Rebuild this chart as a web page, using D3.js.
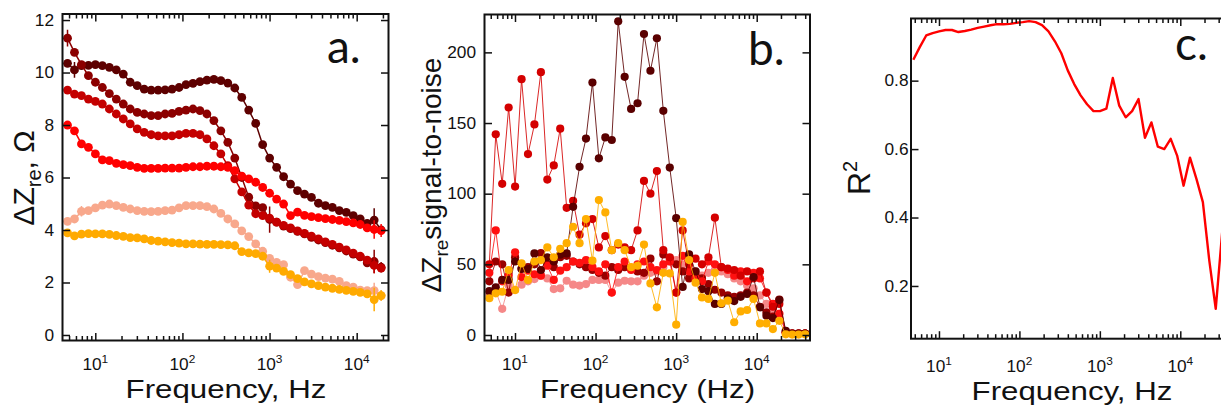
<!DOCTYPE html>
<html><head><meta charset="utf-8">
<script src="https://cdn.jsdelivr.net/npm/d3@7/dist/d3.min.js"></script>
<style>
html,body{margin:0;padding:0;background:#fff;overflow:hidden}
svg{display:block}
</style></head>
<body>
<svg id="chart" width="1221" height="408" xmlns="http://www.w3.org/2000/svg"></svg>
<script>
// ================= DATA =================
const freqHz = [4.80,5.77,6.94,8.34,10.03,12.06,14.50,17.43,20.96,25.19,30.29,36.41,43.78,52.63,63.27,76.07,91.45,109.9,132.2,158.9,191.0,229.7,276.1,331.9,399.0,479.7,576.7,693.3,833.5,1002,1205,1449,1742,2094,2517,3026,3638,4374,5258,6321,7600,9136,10984,13205,15875,19085,22945,27584,33162,39868];

// Panel a: ΔZre (Ω)
const aDarkest = [10.35,10.10,10.26,10.27,10.30,10.26,10.20,10.10,9.94,9.63,9.50,9.37,9.33,9.33,9.34,9.37,9.43,9.54,9.59,9.65,9.71,9.74,9.69,9.60,9.41,9.05,8.57,8.06,7.25,6.74,6.39,6.03,5.75,5.50,5.37,5.24,5.02,4.93,4.86,4.74,4.67,4.55,4.42,4.25,4.38,4.00];
const aDarkRed = [11.31,10.77,10.30,9.88,9.63,9.43,9.20,8.99,8.80,8.61,8.48,8.42,8.36,8.36,8.42,8.44,8.52,8.57,8.61,8.55,8.42,8.17,7.78,7.34,6.74,6.00,5.25,4.92,4.85,4.40,4.30,4.15,4.05,3.95,3.85,3.72,3.62,3.52,3.42,3.32,3.20,3.08,2.98,2.75,2.80,2.58];
const aMedRed = [9.33,9.18,9.12,8.99,8.90,8.80,8.61,8.42,8.23,8.04,7.85,7.72,7.63,7.59,7.59,7.59,7.63,7.68,7.68,7.63,7.47,7.21,6.90,6.45,5.95,5.45,4.95,4.62,4.55,4.45,4.30,4.18,4.08,3.97,3.87,3.77,3.66,3.55,3.45,3.35,3.24,3.12,3.00,2.85,2.65,2.55];
const aRed = [8.00,7.78,7.28,7.15,6.90,6.67,6.64,6.54,6.49,6.45,6.39,6.35,6.35,6.35,6.36,6.36,6.36,6.39,6.41,6.41,6.43,6.43,6.41,6.39,6.26,6.05,5.95,5.82,5.62,5.40,5.18,4.99,4.55,4.68,4.56,4.51,4.47,4.43,4.40,4.37,4.32,4.27,4.21,4.08,4.02,3.98];
const aSalmon = [4.33,4.42,4.71,4.74,4.84,4.95,4.99,4.93,4.86,4.80,4.74,4.71,4.70,4.71,4.74,4.76,4.84,4.93,4.93,4.93,4.89,4.80,4.63,4.42,4.23,3.97,3.75,3.47,3.19,2.92,2.77,2.68,2.20,1.92,2.45,2.32,2.22,2.17,2.13,2.04,1.88,1.82,1.71,1.69,1.69,1.50];
const aOrange = [3.89,3.78,3.84,3.86,3.85,3.85,3.83,3.79,3.76,3.71,3.70,3.66,3.60,3.58,3.55,3.52,3.50,3.47,3.47,3.46,3.45,3.45,3.44,3.43,3.40,3.18,3.13,3.10,3.00,2.62,2.55,2.42,2.30,2.15,2.02,1.95,1.88,1.82,1.78,1.74,1.70,1.66,1.62,1.57,1.35,1.50];
const aErrDefault = 0.12;
// visible large error bars: [series, point index, half-length]
const aErrBig = [["aDarkRed",0,0.32],["aDarkest",1,0.30],["aSalmon",2,0.20],["aDarkRed",29,0.50],["aOrange",29,0.25],
  ["aDarkest",44,0.45],["aDarkRed",44,0.45],["aMedRed",44,0.30],["aRed",44,0.35],["aOrange",44,0.45],["aSalmon",44,0.30],
  ["aDarkRed",45,0.20],["aRed",45,0.25],["aOrange",45,0.20],["aSalmon",45,0.20]];
const aYTicks = [0,2,4,6,8,10,12];

// Panel b: ΔZre signal-to-noise
const bDarkest = [31,33.7,39,39,52,46.7,46.7,57.7,46,55,52,56.8,57.7,90.7,119,139,178.6,125,139.8,138,222,182.7,160,164,213,187,210,158.6,118.5,82.7,34,57,45,32.5,31,22,22,26,24,27,29,41,19.6,13.7,12,24.7,3,1,1,1];
const bDarkRed = [38,52,50,30,55,47,48,50,58,50,48,55,56,52,50,48,46,44,42,48,46,48,47,45,44,54,38,57,54,50,45,40,42,40,36,32,30,28,27,28,30,28,20,16,13,25,2,1,1,1];
const bMedRed = [50,142,107,161,105,181,128,149,186,110,120,146,90,95,71,79,82,62,70,60,64,62,60,74,109,100,116,60,55,30,74,50,54,50,55,83,48,47,46,42,45,40,45,30,20,22,2,1,1,1];
const bRed = [44,74,38,42,58.5,41,45.5,43,42,49,39,45.5,48,52,51,53,48,45,50,30,48,52,46,50,52,48,46,50,52,30,56,45,40,38,52,50,48,46,42,45,38,44,40,30,22,15,2,1,1,1];
const bPink = [29,31,18.5,35,32,35.6,38,39.6,42,40,32.5,33,38.4,35.6,35,36,39,39,39,30,37,38.4,38,38,42,44,45,48,52,53,50,48,45,42,44,46,45,43,40,38,35,33,28,22,18,15,2,1,1,1];
const bOrange = [26,29.5,30.6,46,31.8,50.7,39,52,53,62,55,61,65,76.6,65,82,52.6,95.5,86.7,60,65,60,48,49,64,36.5,19.6,44,43.6,7.3,80,53,37,26.6,25.5,44,22.4,24.3,9,16.7,17.7,25.5,8.2,8.2,4.2,10,0.5,0.3,0.3,0.5];
const bYTicks = [0,50,100,150,200];

// Panel c: R²
const cR2 = [0.861,0.898,0.932,0.939,0.944,0.948,0.948,0.942,0.945,0.949,0.954,0.958,0.962,0.965,0.965,0.966,0.969,0.971,0.974,0.971,0.962,0.944,0.915,0.880,0.830,0.790,0.757,0.731,0.711,0.711,0.718,0.808,0.727,0.693,0.711,0.746,0.633,0.678,0.607,0.600,0.630,0.581,0.493,0.575,0.513,0.445,0.274,0.133,0.357];
const cYTicks = [0.2,0.4,0.6,0.8];

const xTickExps = [1,2,3,4];
const panelLetters = ["a.","b.","c."];

// ================= DRAW =================
const svg = d3.select("#chart");
const SANS = "'Liberation Sans', Arial, Helvetica, sans-serif";
const defs = svg.append("defs");
const TICK_SX = 1.08, TITLE_SX = 1.25, TICK_FS = 16;

function makePanel(id, box, xDom, yDom) {
  const x = d3.scaleLog().domain(xDom).range([box.left, box.right]);
  const y = d3.scaleLinear().domain(yDom).range([box.bottom, box.top]);
  defs.append("clipPath").attr("id","clip-"+id).append("rect")
    .attr("x",box.left).attr("y",box.top).attr("width",box.right-box.left).attr("height",box.bottom-box.top);
  const g = svg.append("g");
  const plot = g.append("g").attr("clip-path",`url(#clip-${id})`);
  return {x,y,g,plot,box};
}

function logTickVals(x) {
  const [a,b] = x.domain();
  const major=[], minor=[];
  for (let d=Math.floor(Math.log10(a)); d<=Math.ceil(Math.log10(b)); d++) {
    for (let m=1;m<=9;m++){ const v=m*Math.pow(10,d); if(v>=a&&v<=b){ (m===1?major:minor).push(v);} }
  }
  return {major,minor};
}

function drawAxes(P, yTicks, yFmt, yLabelRight, showRight) {
  const {x,y,g,box} = P;
  const {major,minor} = logTickVals(x);
  const style = s => s.call(q=>q.select(".domain").remove())
    .call(q=>q.selectAll(".tick line").attr("stroke","#111").attr("stroke-width",1.5))
    .call(q=>q.selectAll(".tick text").remove());
  g.append("g").attr("transform",`translate(0,${box.bottom})`).call(d3.axisBottom(x).tickValues(minor).tickSize(-4.5).tickSizeOuter(0)).call(style);
  g.append("g").attr("transform",`translate(0,${box.bottom})`).call(d3.axisBottom(x).tickValues(major).tickSize(-7.5).tickSizeOuter(0)).call(style);
  g.append("g").attr("transform",`translate(0,${box.top})`).call(d3.axisTop(x).tickValues(minor).tickSize(-4.5).tickSizeOuter(0)).call(style);
  g.append("g").attr("transform",`translate(0,${box.top})`).call(d3.axisTop(x).tickValues(major).tickSize(-7.5).tickSizeOuter(0)).call(style);
  g.append("g").attr("transform",`translate(${box.left},0)`).call(d3.axisLeft(y).tickValues(yTicks).tickSize(-7.5).tickSizeOuter(0)).call(style);
  if (showRight) g.append("g").attr("transform",`translate(${box.right},0)`).call(d3.axisRight(y).tickValues(yTicks).tickSize(-7.5).tickSizeOuter(0)).call(style);
  g.append("rect").attr("x",box.left).attr("y",box.top).attr("width",box.right-box.left).attr("height",box.bottom-box.top)
    .attr("fill","none").attr("stroke","#111").attr("stroke-width",2);
  yTicks.forEach(v=>{
    g.append("text").attr("transform",`translate(${yLabelRight},${y(v)}) scale(${TICK_SX},1)`)
      .attr("text-anchor","end").attr("dy","0.36em").attr("font-family",SANS).attr("font-size",TICK_FS).attr("fill","#111")
      .text(yFmt(v));
  });
}

function xLabels(P, baseY) {
  xTickExps.forEach(e=>{
    const t = P.g.append("text").attr("transform",`translate(${P.x(Math.pow(10,e))},${baseY}) scale(${TICK_SX},1)`)
      .attr("text-anchor","middle").attr("font-family",SANS).attr("font-size",TICK_FS).attr("fill","#111");
    t.append("tspan").text("10");
    t.append("tspan").attr("dy",-7).attr("font-size",11).text(e);
  });
}

function xTitle(P, cx, baseY, str) {
  P.g.append("text").attr("transform",`translate(${cx},${baseY}) scale(${TITLE_SX},1)`)
    .attr("text-anchor","middle").attr("font-family",SANS).attr("font-size",25).attr("fill","#111").text(str);
}

function letter(P, lx, ly, str) {
  P.g.append("text").attr("x",lx).attr("y",ly).attr("font-family","Lato, 'Open Sans', sans-serif")
    .attr("font-size",46).attr("fill","#111").text(str);
}

// ---------- Panel a ----------
const A = makePanel("a",{left:62.5,right:388.5,top:14,bottom:340.5},[4.204,23180],[-0.21,12.23]);
const aSeries = [
  {name:"aDarkest",vals:aDarkest,color:"#5e0000"},
  {name:"aDarkRed",vals:aDarkRed,color:"#8c0000"},
  {name:"aMedRed",vals:aMedRed,color:"#c40000"},
  {name:"aRed",vals:aRed,color:"#ff0000"},
  {name:"aSalmon",vals:aSalmon,color:"#f8a88c"},
  {name:"aOrange",vals:aOrange,color:"#ffaa00"}
];
const errOf = (name,i)=>{ const e=aErrBig.find(d=>d[0]===name&&d[1]===i); return e?e[2]:aErrDefault; };
const lineA = d3.line().x((d,i)=>A.x(freqHz[i])).y(d=>A.y(d));
aSeries.forEach(s=>{
  const grp = A.plot.append("g");
  grp.append("path").attr("d",lineA(s.vals)).attr("fill","none").attr("stroke",s.color).attr("stroke-width",1.5);
  grp.selectAll("line.err").data(s.vals).join("line").attr("class","err")
    .attr("x1",(d,i)=>A.x(freqHz[i])).attr("x2",(d,i)=>A.x(freqHz[i]))
    .attr("y1",(d,i)=>A.y(d-errOf(s.name,i))).attr("y2",(d,i)=>A.y(d+errOf(s.name,i)))
    .attr("stroke",s.color).attr("stroke-width",1.5);
  grp.selectAll("circle").data(s.vals).join("circle")
    .attr("cx",(d,i)=>A.x(freqHz[i])).attr("cy",d=>A.y(d)).attr("r",4.4).attr("fill",s.color);
});
drawAxes(A, aYTicks, d3.format("d"), 54, true);
xLabels(A, 369.5);
xTitle(A, 226, 397.5, "Frequency, Hz");
letter(A, 327, 63, panelLetters[0]);
{
  const t = A.g.append("text").attr("transform","translate(34,178) rotate(-90)").attr("text-anchor","middle")
    .attr("font-family",SANS).attr("font-size",30).attr("fill","#111");
  t.append("tspan").text("ΔZ");
  t.append("tspan").attr("dy",7).attr("font-size",20).text("re");
  t.append("tspan").attr("dy",-7).text(", Ω");
}

// ---------- Panel b ----------
const B = makePanel("b",{left:484.5,right:810,top:14.5,bottom:340.5},[4.183,45860],[-3.9,226.8]);
const bSeries = [
  {vals:bPink,color:"#f58888"},
  {vals:bDarkRed,color:"#980000"},
  {vals:bRed,color:"#ff1010"},
  {vals:bMedRed,color:"#d40000"},
  {vals:bDarkest,color:"#5a0000"},
  {vals:bOrange,color:"#ffae00"}
];
const lineB = d3.line().x((d,i)=>B.x(freqHz[i])).y(d=>B.y(d));
bSeries.forEach(s=>{
  const grp = B.plot.append("g");
  grp.append("path").attr("d",lineB(s.vals)).attr("fill","none").attr("stroke",s.color).attr("stroke-width",1).attr("stroke-opacity",0.85);
  grp.selectAll("circle").data(s.vals).join("circle")
    .attr("cx",(d,i)=>B.x(freqHz[i])).attr("cy",d=>B.y(d)).attr("r",4.1).attr("fill",s.color);
});
drawAxes(B, bYTicks, d3.format("d"), 476, true);
xLabels(B, 369.5);
xTitle(B, 647.5, 397.8, "Frequency (Hz)");
letter(B, 748, 65, panelLetters[1]);
{
  const t = B.g.append("text").attr("transform","translate(441,175) rotate(-90)").attr("text-anchor","middle")
    .attr("font-family",SANS).attr("font-size",28).attr("fill","#111");
  t.append("tspan").text("ΔZ");
  t.append("tspan").attr("dy",7).attr("font-size",19).text("re");
  t.append("tspan").attr("dy",-7).text("signal-to-noise");
}

// ---------- Panel c ----------
const C = makePanel("c",{left:911,right:1237,top:18.5,bottom:338.7},[4.49,50700],[0.0459,0.9816]);
const lineC = d3.line().x((d,i)=>C.x(freqHz[i])).y(d=>C.y(d));
C.plot.append("path").attr("d",lineC(cR2)).attr("fill","none").attr("stroke","#ff0000").attr("stroke-width",2.4).attr("stroke-linejoin","round");
drawAxes(C, cYTicks, d3.format(".1f"), 908.5, false);
xLabels(C, 371.5);
xTitle(C, 1072, 399.5, "Frequency, Hz");
letter(C, 1175, 60, panelLetters[2]);
{
  const t = C.g.append("text").attr("transform","translate(870,178) rotate(-90)").attr("text-anchor","middle")
    .attr("font-family",SANS).attr("font-size",32).attr("fill","#111");
  t.append("tspan").text("R");
  t.append("tspan").attr("dy",-13).attr("font-size",20).text("2");
}
</script>
</body></html>
